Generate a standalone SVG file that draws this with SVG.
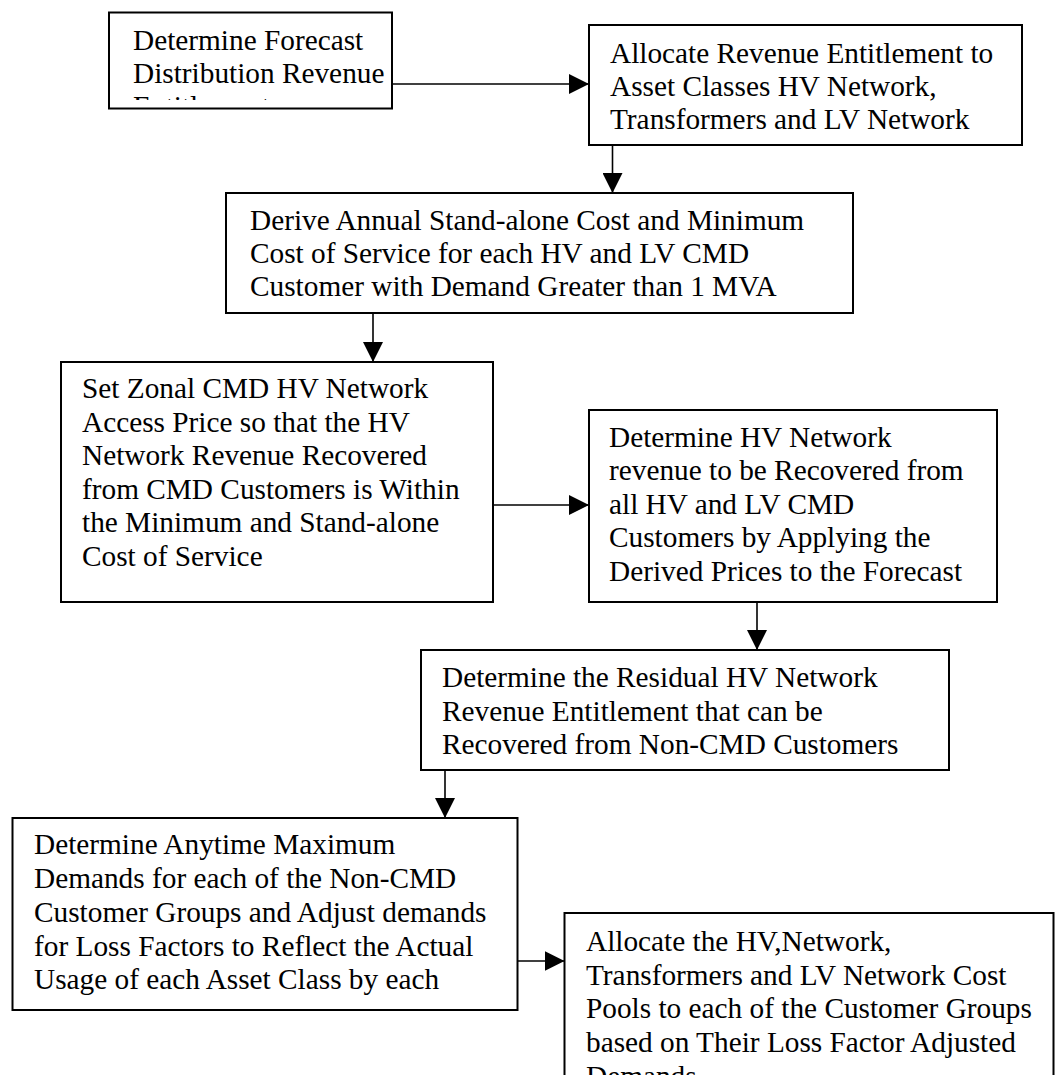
<svg xmlns="http://www.w3.org/2000/svg" width="1055" height="1075" viewBox="0 0 1055 1075">
<style>
.box{fill:#fff;stroke:#000;stroke-width:2}
.t{font-family:"Liberation Serif","Times New Roman",serif;font-size:29.3px;fill:#000}
.c{stroke:#000;stroke-width:1.6;fill:none;marker-end:url(#ah)}
</style>
<defs>
<marker id="ah" markerUnits="userSpaceOnUse" markerWidth="20" markerHeight="20" refX="20" refY="10" orient="auto">
<path d="M0,0 L20,10 L0,20 z" fill="#000"/>
</marker>
<clipPath id="clip1"><rect x="109" y="12" width="283" height="88"/></clipPath>
</defs>
<rect width="1055" height="1075" fill="#fff"/>
<g id="connectors">
<line class="c" x1="392" y1="84" x2="589" y2="84"/>
<line class="c" x1="612.5" y1="145" x2="612.5" y2="193"/>
<line class="c" x1="373" y1="313" x2="373" y2="362"/>
<line class="c" x1="493" y1="505" x2="589" y2="505"/>
<line class="c" x1="757" y1="602" x2="757" y2="650"/>
<line class="c" x1="445" y1="770" x2="445" y2="818"/>
<line class="c" x1="517" y1="961" x2="564.5" y2="961"/>
</g>
<g id="n1">
<rect class="box" x="109" y="12.5" width="283" height="96"/>
<g clip-path="url(#clip1)">
<text class="t" x="133" y="50">Determine Forecast</text>
<text class="t" x="133" y="83">Distribution Revenue</text>
<text class="t" x="133" y="116">Entitlement</text>
</g>
</g>
<g id="n2">
<rect class="box" x="589" y="25" width="433" height="120"/>
<text class="t" x="610" y="63">Allocate Revenue Entitlement to</text>
<text class="t" x="610" y="96">Asset Classes HV Network,</text>
<text class="t" x="610" y="129">Transformers and LV Network</text>
</g>
<g id="n3">
<rect class="box" x="226" y="193" width="627" height="120"/>
<text class="t" x="250" y="230">Derive Annual Stand-alone Cost and Minimum</text>
<text class="t" x="250" y="263">Cost of Service for each HV and LV CMD</text>
<text class="t" x="250" y="296">Customer with Demand Greater than 1 MVA</text>
</g>
<g id="n4">
<rect class="box" x="61" y="362" width="432" height="240"/>
<text class="t" x="82" y="398">Set Zonal CMD HV Network</text>
<text class="t" x="82" y="432">Access Price so that the HV</text>
<text class="t" x="82" y="465">Network Revenue Recovered</text>
<text class="t" x="82" y="499">from CMD Customers is Within</text>
<text class="t" x="82" y="532">the Minimum and Stand-alone</text>
<text class="t" x="82" y="566">Cost of Service</text>
</g>
<g id="n5">
<rect class="box" x="589" y="410" width="408" height="192"/>
<text class="t" x="609" y="447">Determine HV Network</text>
<text class="t" x="609" y="480">revenue to be Recovered from</text>
<text class="t" x="609" y="514">all HV and LV CMD</text>
<text class="t" x="609" y="547">Customers by Applying the</text>
<text class="t" x="609" y="581">Derived Prices to the Forecast</text>
</g>
<g id="n6">
<rect class="box" x="421" y="650" width="528" height="120"/>
<text class="t" x="442" y="687">Determine the Residual HV Network</text>
<text class="t" x="442" y="721">Revenue Entitlement that can be</text>
<text class="t" x="442" y="754">Recovered from Non-CMD Customers</text>
</g>
<g id="n7">
<rect class="box" x="12.5" y="818" width="505" height="192"/>
<text class="t" x="34" y="854">Determine Anytime Maximum</text>
<text class="t" x="34" y="888">Demands for each of the Non-CMD</text>
<text class="t" x="34" y="922">Customer Groups and Adjust demands</text>
<text class="t" x="34" y="956">for Loss Factors to Reflect the Actual</text>
<text class="t" x="34" y="989">Usage of each Asset Class by each</text>
</g>
<g id="n8">
<rect class="box" x="564.5" y="913" width="489" height="200"/>
<text class="t" x="586" y="951">Allocate the HV,Network,</text>
<text class="t" x="586" y="985">Transformers and LV Network Cost</text>
<text class="t" x="586" y="1018">Pools to each of the Customer Groups</text>
<text class="t" x="586" y="1052">based on Their Loss Factor Adjusted</text>
<text class="t" x="586" y="1086">Demands</text>
</g>
</svg>
